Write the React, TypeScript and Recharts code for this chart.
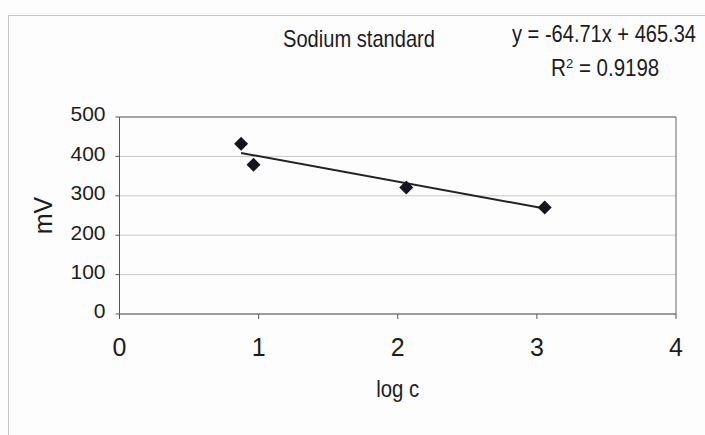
import { ComposedChart, Scatter, XAxis, YAxis, CartesianGrid, ReferenceLine } from "recharts";

// Sodium standard: electrode potential vs log concentration
const logC = [0.874, 0.963, 2.061, 3.056];
const mV = [432, 379, 321, 270];
const xTicks = [0, 1, 2, 3, 4];
const yTicks = [0, 100, 200, 300, 400, 500];

// linear trendline as printed on the chart
const slope = -64.71;
const intercept = 465.34;
const rSquared = "0.9198";

const points = logC.map((x, i) => ({ x, y: mV[i] }));
const xMin = Math.min(...logC);
const xMax = Math.max(...logC);
const trend = [
  { x: xMin, y: slope * xMin + intercept },
  { x: xMax, y: slope * xMax + intercept },
];

const sans = "'Liberation Sans', Arial, sans-serif";
const ink = "#1c1c1c";
const squeeze = { lengthAdjust: "spacingAndGlyphs" as const };

const Diamond = (p: any) => {
  const { cx, cy } = p;
  const r = 7;
  return <path d={`M${cx},${cy - r}L${cx + r},${cy}L${cx},${cy + r}L${cx - r},${cy}Z`} fill="#15151f" />;
};

export default function App() {
  return (
    <div style={{ position: "absolute", left: 0, top: 0, width: 705, height: 435, background: "#fdfdfd" }}>
      <ComposedChart width={705} height={435} margin={{ top: 117, right: 29, bottom: 38, left: -33 }}>
        <rect x={8.5} y={15.5} width={720} height={450} fill="none" stroke="#c4c4c4" />
        <text x={359} y={47} textAnchor="middle" fontFamily={sans} fontSize={24} fill={ink} textLength={152} {...squeeze}>
          Sodium standard
        </text>
        <text x={604} y={42} textAnchor="middle" fontFamily={sans} fontSize={24} fill={ink} textLength={184} {...squeeze}>
          {`y = ${slope}x + ${intercept}`}
        </text>
        <text x={551} y={76} fontFamily={sans} fontSize={24} fill={ink}>
          <tspan textLength={15} {...squeeze}>R</tspan>
          <tspan dy={-8} fontSize={13}>2</tspan>
          <tspan dy={8} textLength={86} {...squeeze}>{` = ${rSquared}`}</tspan>
        </text>
        <CartesianGrid vertical={false} stroke="#c8c8c8" />
        <XAxis
          type="number"
          dataKey="x"
          domain={[0, 4]}
          ticks={xTicks}
          tickSize={5}
          tickMargin={19}
          height={83}
          stroke="#555"
          tick={{ fontSize: 25, fill: ink, fontFamily: sans }}
          label={{ value: "log c", position: "insideBottom", offset: 0, fontSize: 24, fill: ink, fontFamily: sans, textLength: 43, lengthAdjust: "spacingAndGlyphs" }}
        />
        <YAxis
          type="number"
          dataKey="y"
          domain={[0, 500]}
          ticks={yTicks}
          tickSize={4}
          tickMargin={10}
          width={152.5}
          stroke="#555"
          tick={{ fontSize: 21, fill: ink, fontFamily: sans, dy: -3 }}
          label={{ value: "mV", angle: -90, position: "center", fontSize: 25, fill: ink, fontFamily: sans }}
        />
        <ReferenceLine y={500} stroke="#666" />
        <ReferenceLine x={4} stroke="#666" />
        <ReferenceLine segment={trend} stroke="#222" strokeWidth={2} />
        <Scatter data={points} dataKey="y" shape={Diamond} isAnimationActive={false} />
      </ComposedChart>
    </div>
  );
}
